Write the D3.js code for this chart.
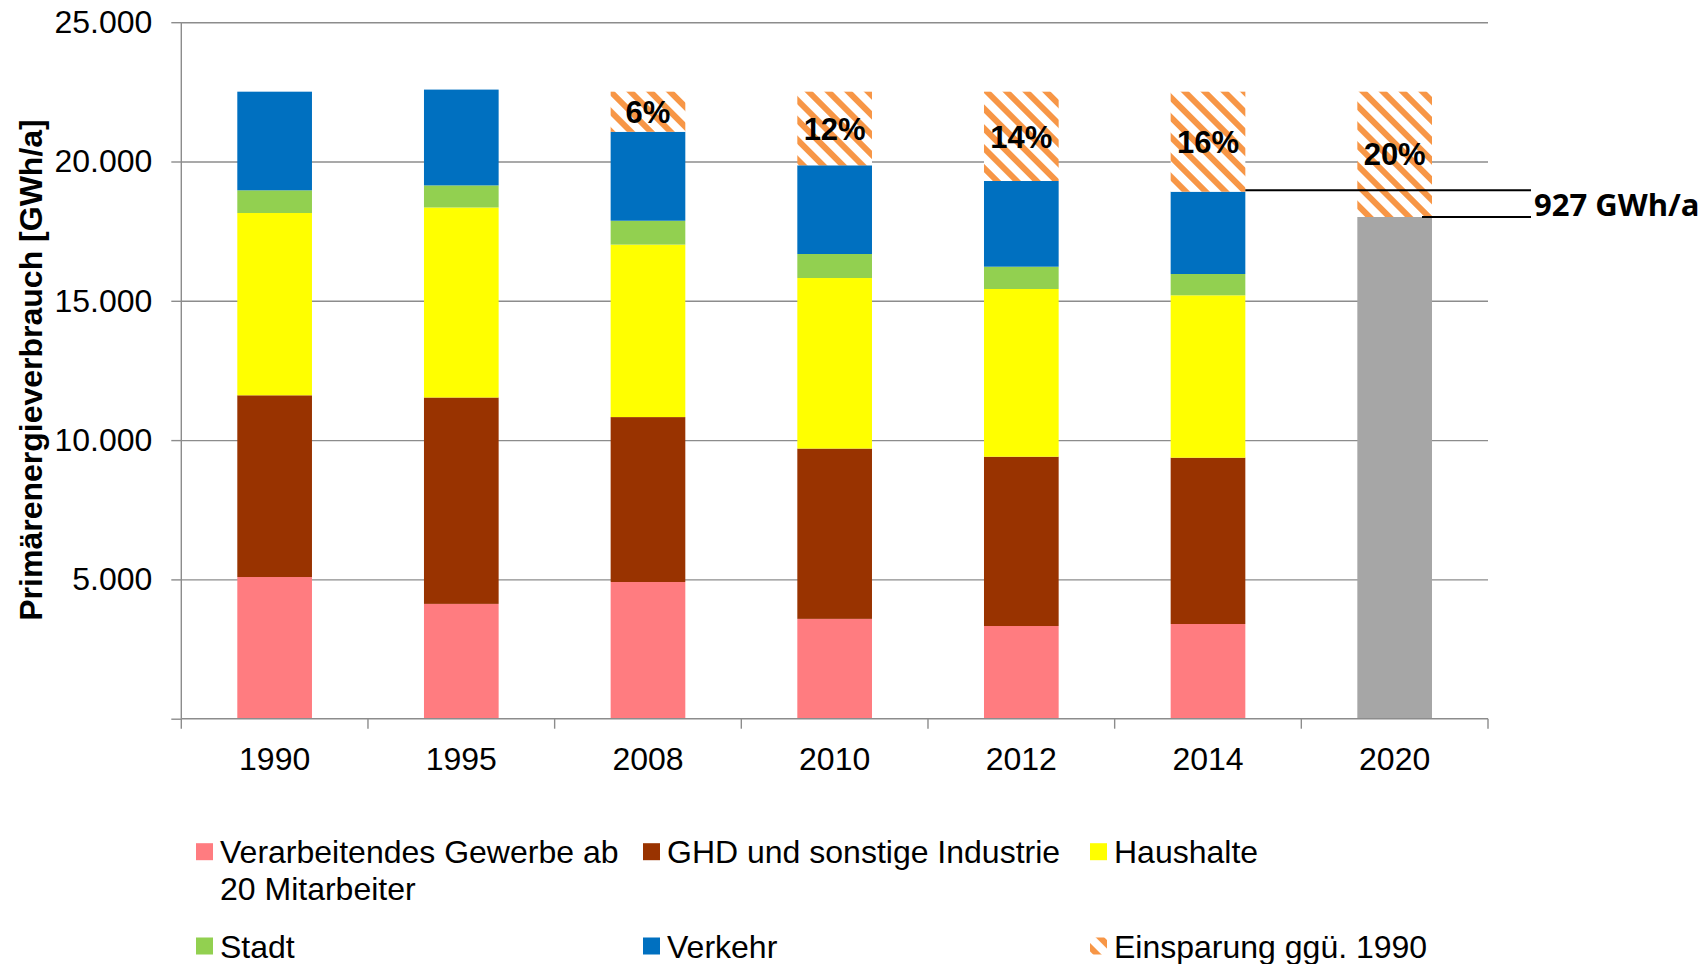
<!DOCTYPE html>
<html>
<head>
<meta charset="utf-8">
<script src="https://cdn.jsdelivr.net/npm/d3@7"></script>
<style>
  body { margin: 0; background: #ffffff; }
  svg { display: block; }
  .tick text { font-family: "Liberation Sans", Arial, sans-serif; }
</style>
</head>
<body>
<svg id="chart" width="1703" height="964"></svg>
<script>

// data (GWh/a)
var years        = ["1990", "1995", "2008", "2010", "2012", "2014", "2020"];
var verarbeitend = [5086, 4121, 4907, 3583, 3327, 3399, 0];
var ghd          = [6522, 7408, 5919, 6113, 6077, 5970, 0];
var haushalte    = [6543, 6820, 6191, 6122, 6020, 5828, 0];
var stadt        = [815, 793, 857, 862, 800, 765, 0];
var verkehr      = [3540, 3439, 3193, 3184, 3076, 2954, 0];
var ziel         = [0, 0, 0, 0, 0, 0, 18008];
var einsparung   = [0, 0, 1439, 2642, 3206, 3590, 4498];
var percentLabels = ["", "", "6%", "12%", "14%", "16%", "20%"];
var yTicks       = [0, 5000, 10000, 15000, 20000, 25000];
var annotation   = "927 GWh/a";

var seriesKeys   = ["verarbeitend", "ghd", "haushalte", "stadt", "verkehr", "ziel", "einsparung"];
var seriesColors = {
    verarbeitend: "#FF7C80",
    ghd:          "#993300",
    haushalte:    "#FFFF00",
    stadt:        "#92D050",
    verkehr:      "#0070C0",
    ziel:         "#A6A6A6",
    einsparung:   "url(#hatch)"
};

var legendItems = [
    {key: "verarbeitend", lines: ["Verarbeitendes Gewerbe ab", "20 Mitarbeiter"], col: 0, row: 0},
    {key: "ghd",          lines: ["GHD und sonstige Industrie"], col: 1, row: 0},
    {key: "haushalte",    lines: ["Haushalte"], col: 2, row: 0},
    {key: "stadt",        lines: ["Stadt"], col: 0, row: 1},
    {key: "verkehr",      lines: ["Verkehr"], col: 1, row: 1},
    {key: "einsparung",   lines: ["Einsparung ggü. 1990"], col: 2, row: 1}
];

function drawChart() {

    var table = [];
    for (var kk = 0; kk < years.length; kk++) {
	table.push({
	    year: years[kk],
	    verarbeitend: verarbeitend[kk],
	    ghd: ghd[kk],
	    haushalte: haushalte[kk],
	    stadt: stadt[kk],
	    verkehr: verkehr[kk],
	    ziel: ziel[kk],
	    einsparung: einsparung[kk]
	});
    }

    var svg     = d3.select("#chart");
    var pLeft   = 181.3,
	pRight  = 1488,
	pTop    = 22.2,
	pBottom = 718.7;

    var xScale = d3.scaleBand()
	.domain(years)
	.range([pLeft, pRight])
	.padding(0);
    var barW   = xScale.bandwidth() * 0.4;
    var barOff = (xScale.bandwidth() - barW) / 2;

    var yScale = d3.scaleLinear()
	.domain([0, 25000])
	.range([pBottom, pTop]);

    var defs = svg.append("defs");
    var pat  = defs.append("pattern")
	.attr("id", "hatch")
	.attr("patternUnits", "userSpaceOnUse")
	.attr("width", 14)
	.attr("height", 14)
	.attr("patternTransform", "rotate(-45)");
    pat.append("rect").attr("width", 14).attr("height", 14).attr("fill", "#ffffff");
    pat.append("rect").attr("x", 0).attr("width", 6).attr("height", 14).attr("fill", "#F79646");

    // gridlines
    var grid = svg.append("g")
	.attr("transform", "translate(" + pLeft + ",0)")
	.call(d3.axisLeft(yScale).tickValues(yTicks.slice(1)).tickSize(-(pRight - pLeft)).tickFormat(""));
    grid.select(".domain").remove();
    grid.selectAll("line").attr("stroke", "#8c8c8c").attr("stroke-width", 1.4);

    // stacked bars
    var stack  = d3.stack().keys(seriesKeys);
    var layers = stack(table);

    svg.append("g")
	.selectAll("g")
	.data(layers)
	.enter()
	.append("g")
	.attr("fill", function(d) { return seriesColors[d.key]; })
	.selectAll("rect")
	.data(function(d) { return d.filter(function(p) { return p[1] - p[0] > 0; }); })
	.enter()
	.append("rect")
	.attr("x", function(d) { return xScale(d.data.year) + barOff; })
	.attr("y", function(d) { return yScale(d[1]); })
	.attr("width", barW)
	.attr("height", function(d) { return yScale(d[0]) - yScale(d[1]); });

    // percent labels in the hatched part
    var hatchLayer = layers[layers.length - 1];
    svg.append("g")
	.selectAll("text")
	.data(hatchLayer)
	.enter()
	.append("text")
	.attr("x", function(d) { return xScale(d.data.year) + xScale.bandwidth() / 2; })
	.attr("y", function(d) { return (yScale(d[0]) + yScale(d[1])) / 2; })
	.attr("dy", "0.36em")
	.attr("text-anchor", "middle")
	.style("font-family", "'Liberation Sans', Arial, sans-serif")
	.style("font-weight", "bold")
	.style("font-size", "31px")
	.attr("fill", "#000")
	.text(function(d, i) { return percentLabels[i]; });

    // y axis
    var yAxis = svg.append("g")
	.attr("transform", "translate(" + pLeft + ",0)")
	.call(d3.axisLeft(yScale).tickValues(yTicks).tickSize(10).tickPadding(19)
	      .tickFormat(function(d) { return d == 0 ? "" : d3.format(",")(d).replace(",", "."); }));
    yAxis.select(".domain").attr("stroke", "#8c8c8c").attr("stroke-width", 1.4)
	.attr("d", "M0," + pBottom + "V" + pTop);
    yAxis.selectAll("line").attr("stroke", "#8c8c8c").attr("stroke-width", 1.4);
    yAxis.selectAll("text").style("font-size", "32px").attr("fill", "#000");

    // x axis: ticks at band boundaries, labels at centers
    var xg = svg.append("g");
    xg.append("line")
	.attr("x1", pLeft).attr("x2", pRight)
	.attr("y1", pBottom).attr("y2", pBottom)
	.attr("stroke", "#8c8c8c").attr("stroke-width", 1.4);
    var bounds = years.map(function(y) { return xScale(y); }).concat([pRight]);
    xg.selectAll(".btick")
	.data(bounds)
	.enter()
	.append("line")
	.attr("x1", function(d) { return d; })
	.attr("x2", function(d) { return d; })
	.attr("y1", pBottom)
	.attr("y2", pBottom + 10)
	.attr("stroke", "#8c8c8c").attr("stroke-width", 1.4);
    xg.selectAll(".xlabel")
	.data(years)
	.enter()
	.append("text")
	.attr("x", function(d) { return xScale(d) + xScale.bandwidth() / 2; })
	.attr("y", 758)
	.attr("dy", "0.36em")
	.attr("text-anchor", "middle")
	.style("font-family", "'Liberation Sans', Arial, sans-serif")
	.style("font-size", "32px")
	.text(function(d) { return d; });

    // y title
    svg.append("text")
	.attr("transform", "translate(42,370) rotate(-90)")
	.attr("text-anchor", "middle")
	.style("font-family", "'Liberation Sans', Arial, sans-serif")
	.style("font-weight", "bold")
	.style("font-size", "32px")
	.text("Primärenergieverbrauch [GWh/a]");

    // annotation of the remaining gap to the 2020 target
    var last    = years.length - 1;
    var total14 = hatchLayer[last - 1][0];
    var total20 = hatchLayer[last][0];
    var lineEnd = 1531;
    svg.append("line")
	.attr("x1", xScale(years[last - 1]) + barOff + barW)
	.attr("x2", lineEnd)
	.attr("y1", yScale(total14) - 1.5)
	.attr("y2", yScale(total14) - 1.5)
	.attr("stroke", "#000").attr("stroke-width", 2);
    svg.append("line")
	.attr("x1", xScale(years[last]) + barOff + barW - 10)
	.attr("x2", lineEnd)
	.attr("y1", yScale(total20))
	.attr("y2", yScale(total20))
	.attr("stroke", "#000").attr("stroke-width", 2);
    svg.append("text")
	.attr("x", lineEnd + 3)
	.attr("y", (yScale(total14) + yScale(total20)) / 2)
	.attr("dy", "0.36em")
	.style("font-family", "'Open Sans', sans-serif")
	.style("font-weight", "bold")
	.style("font-size", "31px")
	.text(annotation);

    // legend
    var colX = [196, 643, 1090];
    var rowY = [851.7, 946];
    var lg = svg.append("g")
	.style("font-family", "'Liberation Sans', Arial, sans-serif")
	.style("font-size", "32px");
    legendItems.forEach(function(item) {
	var gx = colX[item.col], gy = rowY[item.row];
	lg.append("rect")
	    .attr("x", gx)
	    .attr("y", gy - 8.5)
	    .attr("width", 17)
	    .attr("height", 17)
	    .attr("fill", seriesColors[item.key]);
	item.lines.forEach(function(line, li) {
	    lg.append("text")
		.attr("x", gx + 24)
		.attr("y", gy + li * 37)
		.attr("dy", "0.36em")
		.text(line);
	});
    });
}

drawChart();

</script>
</body>
</html>
